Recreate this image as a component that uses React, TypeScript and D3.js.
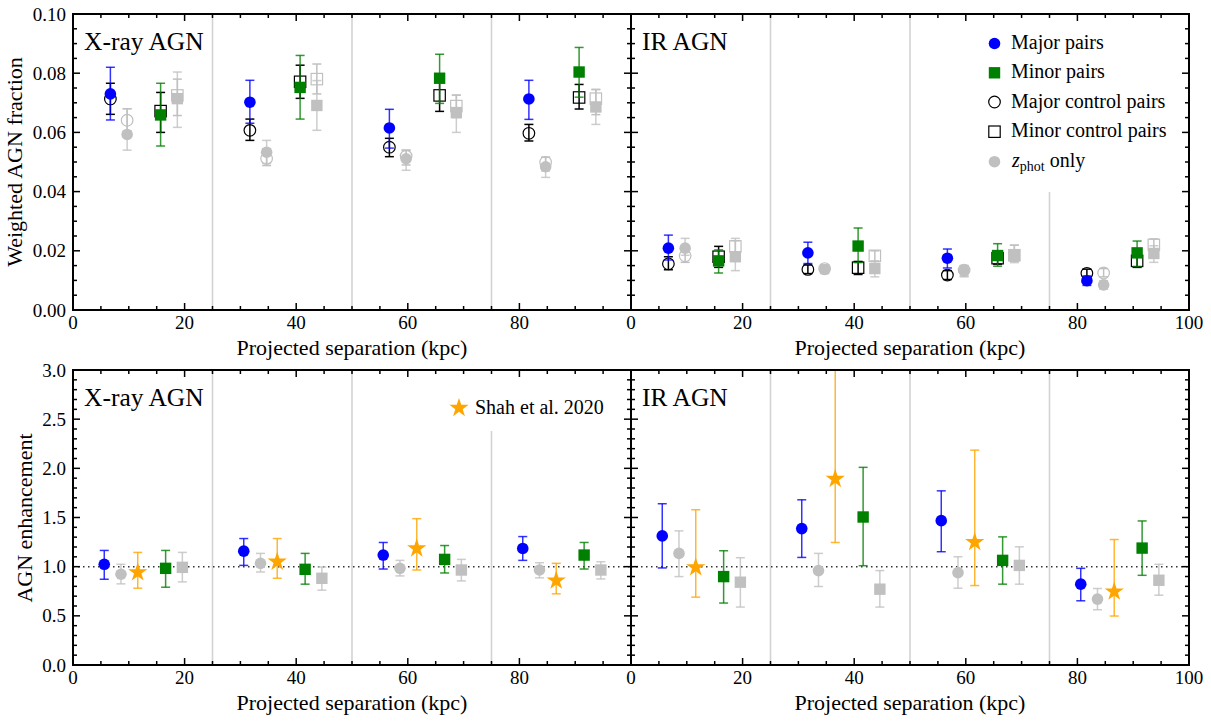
import React from 'react';
import * as d3 from 'd3';

// bin edges (kpc) drawn as grey separators
const binEdges = [25, 50, 75];

// marker x positions (kpc)
const topMajorX = [6.7, 31.7, 56.7, 81.7];
const topZMajorX = [9.7, 34.7, 59.7, 84.7];
const topMinorX = [15.7, 40.7, 65.7, 90.7];
const topZMinorX = [18.7, 43.7, 68.7, 93.7];
const botMajorX = [5.6, 30.6, 55.6, 80.6];
const botZMajorX = [8.6, 33.6, 58.6, 83.6];
const botShahX = [11.6, 36.6, 61.6, 86.6];
const botMinorX = [16.6, 41.6, 66.6, 91.6];
const botZMinorX = [19.6, 44.6, 69.6, 94.6];

// [value, low, high]
const xrayMajor = [[0.0730, 0.0642, 0.0820], [0.0702, 0.0631, 0.0776], [0.0615, 0.0547, 0.0678], [0.0713, 0.0644, 0.0776]];
const xrayMajorCtrl = [[0.0713, 0.0661, 0.0766], [0.0607, 0.0573, 0.0645], [0.0550, 0.0518, 0.0580], [0.0597, 0.0571, 0.0627]];
const xrayZMajor = [[0.0593, 0.0540, 0.0680], [0.0533, 0.0495, 0.0573], [0.0511, 0.0472, 0.0540], [0.0484, 0.0448, 0.0516]];
const xrayZMajorCtrl = [[0.0641, 0.0605, 0.0680], [0.0512, 0.0488, 0.0545], [0.0520, 0.0490, 0.0540], [0.0499, 0.0470, 0.0516]];
const xrayMinor = [[0.0659, 0.0554, 0.0766], [0.0752, 0.0645, 0.0860], [0.0783, 0.0698, 0.0864], [0.0804, 0.0719, 0.0887]];
const xrayMinorCtrl = [[0.0672, 0.0600, 0.0735], [0.0771, 0.0715, 0.0827], [0.0725, 0.0671, 0.0780], [0.0718, 0.0679, 0.0762]];
const xrayZMinor = [[0.0714, 0.0617, 0.0804], [0.0691, 0.0607, 0.0775], [0.0667, 0.0600, 0.0726], [0.0686, 0.0627, 0.0745]];
const xrayZMinorCtrl = [[0.0725, 0.0657, 0.0780], [0.0780, 0.0730, 0.0831], [0.0689, 0.0650, 0.0726], [0.0714, 0.0660, 0.0745]];

const irMajor = [[0.0209, 0.0169, 0.0253], [0.0193, 0.0157, 0.0229], [0.0175, 0.0142, 0.0206], [0.0099, 0.0083, 0.0115]];
const irMajorCtrl = [[0.0156, 0.0136, 0.0180], [0.0137, 0.0123, 0.0152], [0.0118, 0.0103, 0.0133], [0.0124, 0.0110, 0.0138]];
const irZMajor = [[0.0209, 0.0185, 0.0242], [0.0137, 0.0123, 0.0152], [0.0133, 0.0112, 0.0150], [0.0085, 0.0070, 0.0099]];
const irZMajorCtrl = [[0.0183, 0.0161, 0.0205], [0.0140, 0.0125, 0.0152], [0.0135, 0.0115, 0.0150], [0.0125, 0.0112, 0.0140]];
const irMinor = [[0.0166, 0.0125, 0.0203], [0.0216, 0.0160, 0.0277], [0.0184, 0.0148, 0.0224], [0.0193, 0.0147, 0.0233]];
const irMinorCtrl = [[0.0180, 0.0144, 0.0215], [0.0143, 0.0120, 0.0164], [0.0175, 0.0155, 0.0200], [0.0166, 0.0144, 0.0189]];
const irZMinor = [[0.0180, 0.0133, 0.0242], [0.0140, 0.0112, 0.0166], [0.0184, 0.0160, 0.0219], [0.0191, 0.0161, 0.0217]];
const irZMinorCtrl = [[0.0215, 0.0194, 0.0234], [0.0183, 0.0164, 0.0200], [0.0185, 0.0165, 0.0219], [0.0220, 0.0200, 0.0240]];

const xrayEnhMajor = [[1.024, 0.872, 1.165], [1.158, 1.013, 1.286], [1.118, 0.976, 1.246], [1.185, 1.064, 1.306]];
const xrayEnhZMajor = [[0.923, 0.825, 1.024], [1.034, 0.946, 1.135], [0.983, 0.906, 1.064], [0.966, 0.886, 1.040]];
const xrayShah = [[0.943, 0.781, 1.145], [1.050, 0.882, 1.286], [1.185, 0.966, 1.488], [0.859, 0.724, 1.034]];
const xrayEnhMinor = [[0.983, 0.791, 1.165], [0.973, 0.822, 1.135], [1.074, 0.936, 1.215], [1.118, 0.976, 1.246]];
const xrayEnhZMinor = [[0.993, 0.845, 1.145], [0.882, 0.761, 0.997], [0.966, 0.855, 1.074], [0.966, 0.875, 1.050]];

const irEnhMajor = [[1.313, 0.987, 1.640], [1.387, 1.094, 1.680], [1.468, 1.152, 1.771], [0.822, 0.653, 0.983]];
const irEnhZMajor = [[1.135, 0.899, 1.364], [0.960, 0.798, 1.135], [0.939, 0.781, 1.101], [0.670, 0.562, 0.778]];
const irShah = [[0.993, 0.690, 1.579], [1.892, 1.246, 3.300], [1.249, 0.808, 2.185], [0.747, 0.498, 1.276]];
const irEnhMinor = [[0.899, 0.630, 1.162], [1.505, 1.010, 2.010], [1.064, 0.822, 1.303], [1.189, 0.912, 1.465]];
const irEnhZMinor = [[0.842, 0.589, 1.091], [0.771, 0.589, 0.960], [1.013, 0.822, 1.202], [0.862, 0.710, 1.024]];

const xTicks = [0, 20, 40, 60, 80, 100];
const fracTicks = [0, 0.02, 0.04, 0.06, 0.08, 0.1];
const enhTicks = [0, 0.5, 1, 1.5, 2, 2.5, 3];

const legendLabels = ['Major pairs', 'Minor pairs', 'Major control pairs', 'Minor control pairs'];

const BLUE = '#0000ff';
const GREEN = '#008000';
const GREY = '#c0c0c0';
const ORANGE = '#ffa500';
const FONT = '"Liberation Serif", "DejaVu Serif", serif';

const topSeries = (major, majorCtrl, zMajor, zMajorCtrl, minor, minorCtrl, zMinor, zMinorCtrl) => [
  { xs: topMajorX, d: majorCtrl, shape: 'circle', color: '#000', filled: false },
  { xs: topZMajorX, d: zMajorCtrl, shape: 'circle', color: GREY, filled: false },
  { xs: topZMajorX, d: zMajor, shape: 'circle', color: GREY, filled: true },
  { xs: topMajorX, d: major, shape: 'circle', color: BLUE, filled: true },
  { xs: topMinorX, d: minorCtrl, shape: 'square', color: '#000', filled: false },
  { xs: topZMinorX, d: zMinorCtrl, shape: 'square', color: GREY, filled: false },
  { xs: topZMinorX, d: zMinor, shape: 'square', color: GREY, filled: true },
  { xs: topMinorX, d: minor, shape: 'square', color: GREEN, filled: true },
];

const botSeries = (major, zMajor, shah, minor, zMinor) => [
  { xs: botMajorX, d: major, shape: 'circle', color: BLUE, filled: true },
  { xs: botZMajorX, d: zMajor, shape: 'circle', color: GREY, filled: true },
  { xs: botShahX, d: shah, shape: 'star', color: ORANGE, filled: true },
  { xs: botMinorX, d: minor, shape: 'square', color: GREEN, filled: true },
  { xs: botZMinorX, d: zMinor, shape: 'square', color: GREY, filled: true },
];

const star = d3.symbol(d3.symbolStar, 115)();

const Marker = ({ shape, color, filled, cx, cy }) => {
  const fill = filled ? color : 'none';
  const sw = filled ? 0 : 1.2;
  if (shape === 'circle') return <circle cx={cx} cy={cy} r={5.8} fill={fill} stroke={color} strokeWidth={sw} />;
  if (shape === 'square') return <rect x={cx - 5.7} y={cy - 5.7} width={11.4} height={11.4} fill={fill} stroke={color} strokeWidth={sw} />;
  return <path d={star} transform={`translate(${cx},${cy})`} fill={fill} />;
};

const Panel = ({ id, x0, x1, y0, y1, yDomain, yTicks, yMinor, yFmt, showY, showX100, title, series, line75Top, dotted, legend }) => {
  const x = d3.scaleLinear().domain([0, 100]).range([x0, x1]);
  const y = d3.scaleLinear().domain(yDomain).range([y1, y0]);
  const xMinor = d3.range(0, 100.01, 5);
  const yMinorTicks = d3.range(yDomain[0], yDomain[1] + yMinor / 2, yMinor);
  return (
    <g>
      <defs>
        <clipPath id={id}>
          <rect x={x0} y={y0} width={x1 - x0} height={y1 - y0} />
        </clipPath>
      </defs>
      {binEdges.map((b) => (
        <line key={b} x1={x(b)} x2={x(b)} y1={b === 75 && line75Top ? line75Top : y0} y2={y1} stroke="#d3d3d3" strokeWidth={1.6} />
      ))}
      {dotted && <line x1={x0} x2={x1} y1={y(1)} y2={y(1)} stroke="#333" strokeWidth={1.5} strokeDasharray="1.5,3.5" />}
      <g clipPath={`url(#${id})`}>
        {series.map((s, si) => (
          <g key={si}>
            {s.d.map((v, i) => {
              const cx = x(s.xs[i]);
              return (
                <g key={i} stroke={s.color} strokeWidth={1.5} strokeOpacity={s.filled ? 0.8 : 1}>
                  <line x1={cx} x2={cx} y1={y(v[1])} y2={y(v[2])} />
                  <line x1={cx - 4.5} x2={cx + 4.5} y1={y(v[1])} y2={y(v[1])} />
                  <line x1={cx - 4.5} x2={cx + 4.5} y1={y(v[2])} y2={y(v[2])} />
                </g>
              );
            })}
            {s.d.map((v, i) => (
              <Marker key={'m' + i} shape={s.shape} color={s.color} filled={s.filled} cx={x(s.xs[i])} cy={y(v[0])} />
            ))}
          </g>
        ))}
      </g>
      {/* ticks on all four sides, pointing inward */}
      <g stroke="#000" strokeWidth={1.5}>
        {xMinor.map((t) => {
          const major = t % 20 === 0;
          const len = major ? 7 : 4;
          return (
            <g key={'x' + t}>
              <line x1={x(t)} x2={x(t)} y1={y1} y2={y1 - len} />
              <line x1={x(t)} x2={x(t)} y1={y0} y2={y0 + len} />
            </g>
          );
        })}
        {yMinorTicks.map((t, i) => {
          const major = yTicks.some((m) => Math.abs(m - t) < 1e-9);
          const len = major ? 7 : 4;
          return (
            <g key={'y' + i}>
              <line x1={x0} x2={x0 + len} y1={y(t)} y2={y(t)} />
              <line x1={x1} x2={x1 - len} y1={y(t)} y2={y(t)} />
            </g>
          );
        })}
      </g>
      <rect x={x0} y={y0} width={x1 - x0} height={y1 - y0} fill="none" stroke="#000" strokeWidth={2} />
      <g fontFamily={FONT} fontSize={19} fill="#000">
        {xTicks.filter((t) => showX100 || t < 100).map((t) => (
          <text key={t} x={x(t)} y={y1 + 18.5} textAnchor="middle">{t}</text>
        ))}
        {showY && yTicks.map((t) => (
          <text key={t} x={x0 - 7} y={y(t) + 6.5} textAnchor="end">{yFmt(t)}</text>
        ))}
        <text x={(x0 + x1) / 2} y={y1 + 44.5} textAnchor="middle" fontSize={22}>Projected separation (kpc)</text>
        <text x={x0 + 11} y={y0 + 35.5} fontSize={25.5}>{title}</text>
      </g>
      {legend}
    </g>
  );
};

const App = () => {
  const L = { x0: 73, x1: 631 };
  const R = { x0: 631, x1: 1189 };
  const T = { y0: 14, y1: 310, yDomain: [0, 0.1], yTicks: fracTicks, yMinor: 0.005, yFmt: d3.format('.2f') };
  const B = { y0: 370, y1: 665, yDomain: [0, 3], yTicks: enhTicks, yMinor: 0.1, yFmt: d3.format('.1f'), dotted: true };

  const legendMarkers = [
    { shape: 'circle', color: BLUE, filled: true },
    { shape: 'square', color: GREEN, filled: true },
    { shape: 'circle', color: '#000', filled: false },
    { shape: 'square', color: '#000', filled: false },
  ];
  const legendRows = [43.5, 72.8, 102, 131.7, 161.7];

  const topLegend = (
    <g fontFamily={FONT} fontSize={20} fill="#000">
      {legendMarkers.map((m, i) => (
        <g key={i}>
          <Marker {...m} cx={994.5} cy={legendRows[i]} />
          <text x={1011} y={legendRows[i] + 5.5}>{legendLabels[i]}</text>
        </g>
      ))}
      <Marker shape="circle" color={GREY} filled cx={994.5} cy={legendRows[4]} />
      <text x={1012} y={legendRows[4] + 5}>
        <tspan fontStyle="italic">z</tspan>
        <tspan fontSize={14} dy={4}>phot</tspan>
        <tspan dy={-4}> only</tspan>
      </text>
    </g>
  );

  const botLegend = (
    <g fontFamily={FONT} fontSize={20} fill="#000">
      <Marker shape="star" color={ORANGE} filled cx={459} cy={408} />
      <text x={475} y={414}>Shah et al. 2020</text>
    </g>
  );

  return (
    <svg width={1211} height={721} style={{ position: 'absolute', left: 0, top: 0, background: '#fff' }}>
      <Panel id="c1" {...L} {...T} showY title="X-ray AGN"
        series={topSeries(xrayMajor, xrayMajorCtrl, xrayZMajor, xrayZMajorCtrl, xrayMinor, xrayMinorCtrl, xrayZMinor, xrayZMinorCtrl)} />
      <Panel id="c2" {...R} {...T} showX100 title="IR AGN" line75Top={192} legend={topLegend}
        series={topSeries(irMajor, irMajorCtrl, irZMajor, irZMajorCtrl, irMinor, irMinorCtrl, irZMinor, irZMinorCtrl)} />
      <Panel id="c3" {...L} {...B} showY title="X-ray AGN" line75Top={431} legend={botLegend}
        series={botSeries(xrayEnhMajor, xrayEnhZMajor, xrayShah, xrayEnhMinor, xrayEnhZMinor)} />
      <Panel id="c4" {...R} {...B} showX100 title="IR AGN"
        series={botSeries(irEnhMajor, irEnhZMajor, irShah, irEnhMinor, irEnhZMinor)} />
      <text transform="translate(22,162) rotate(-90)" textAnchor="middle" fontFamily={FONT} fontSize={22}>Weighted AGN fraction</text>
      <text transform="translate(32,518) rotate(-90)" textAnchor="middle" fontFamily={FONT} fontSize={22}>AGN enhancement</text>
    </svg>
  );
};

export default App;
